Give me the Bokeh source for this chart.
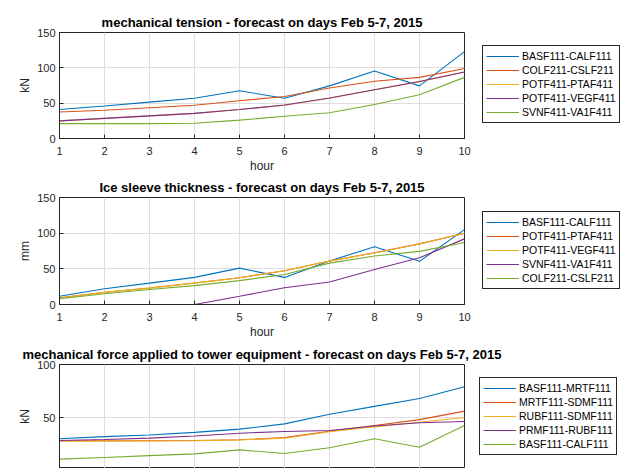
from bokeh.plotting import figure
from bokeh.layouts import column
from bokeh.models import Legend, LegendItem, FixedTicker, Range1d
from bokeh.embed import file_html
from bokeh.resources import INLINE

hours = [1, 2, 3, 4, 5, 6, 7, 8, 9, 10]

# Panel 1: mechanical tension (kN)
t_names = ["BASF111-CALF111", "COLF211-CSLF211", "POTF411-PTAF411", "POTF411-VEGF411", "SVNF411-VA1F411"]
t_basf_calf = [41, 46, 51.5, 57, 67.5, 57, 74.5, 95.5, 74.5, 123]
t_colf_cslf = [37.5, 40, 43.5, 47, 53.5, 59.5, 71.5, 81, 86.5, 99]
t_potf_ptaf = [25, 28.5, 32, 35.5, 41, 47, 57, 69, 80.5, 94]
t_potf_vegf = [25, 28.5, 32, 35.5, 41, 47.3, 57.2, 69, 80.6, 94.2]
t_svnf_va1f = [21, 21, 21, 21.5, 26, 31.5, 36.5, 48, 62, 86.5]

# Panel 2: ice sleeve thickness (mm)
i_names = ["BASF111-CALF111", "POTF411-PTAF411", "POTF411-VEGF411", "SVNF411-VA1F411", "COLF211-CSLF211"]
i_basf_calf = [11.5, 22, 30, 38, 51, 38, 61, 81, 60.5, 105]
i_potf_ptaf = [9.3, 17.2, 23.2, 30.2, 37.6, 47.4, 61, 72.5, 85, 100]
i_potf_vegf = [9, 17, 23, 30, 37.5, 47.2, 60.8, 72.3, 84.8, 99.8]
i_svnf_va1f = [0, 0, 0, 0, 11.5, 23.5, 31.5, 49, 65.5, 92]
i_colf_cslf = [8, 15, 21, 26.5, 33.5, 42, 58, 68, 74.5, 87]

# Panel 3: mechanical force applied to tower equipment (kN)
f_names = ["BASF111-MRTF111", "MRTF111-SDMF111", "RUBF111-SDMF111", "PRMF111-RUBF111", "BASF111-CALF111"]
f_basf_mrtf = [30, 32, 33.5, 36, 39, 44, 53, 60.5, 68, 79]
f_mrtf_sdmf = [28, 28, 28, 28.3, 29, 31, 37, 42.5, 48, 56]
f_rubf_sdmf = [27.7, 27.7, 27.8, 28, 28.8, 30.5, 36.5, 41.2, 45.5, 50]
f_prmf_rubf = [28.3, 29.2, 30.5, 32.5, 35.2, 36.8, 37.8, 42, 45, 46.2]
f_basf_calf = [10.7, 12.3, 14, 15.7, 19.5, 16, 21.5, 30, 22, 42.5]

colors = ["#0072BD", "#D95319", "#EDB120", "#7E2F8E", "#77AC30"]
FONT = "Liberation Sans"
AX = "#262626"


def panel(title, names, series, ylabel, yr, yticks, fh, btop, bbottom, show_x, leg_xy):
    p = figure(width=622, height=btop + fh + bbottom, frame_width=405, frame_height=fh,
               output_backend="svg", toolbar_location=None,
               x_range=Range1d(1, 10), y_range=Range1d(*yr),
               min_border_left=59, min_border_right=158,
               min_border_top=btop, min_border_bottom=bbottom)
    p.title.text = title
    p.title.align = "center"
    p.title.text_font = FONT
    p.title.text_font_size = "13px"
    p.title.text_font_style = "bold"
    p.title.text_color = "black"
    p.title.standoff = 5
    p.outline_line_color = AX
    p.outline_line_alpha = 1
    p.outline_line_width = 1
    p.background_fill_color = "white"
    p.border_fill_color = "white"
    p.xaxis.ticker = FixedTicker(ticks=hours)
    p.yaxis.ticker = FixedTicker(ticks=yticks)
    for ax in (p.xaxis[0], p.yaxis[0]):
        ax.major_tick_in = 4
        ax.major_tick_out = 0
        ax.minor_tick_line_color = None
        ax.axis_line_color = AX
        ax.major_tick_line_color = AX
        ax.major_label_text_font = FONT
        ax.major_label_text_font_size = "11px"
        ax.major_label_text_color = AX
        ax.axis_label_text_font = FONT
        ax.axis_label_text_font_size = "12px"
        ax.axis_label_text_font_style = "normal"
        ax.axis_label_text_color = AX
    p.yaxis.axis_label = ylabel
    p.yaxis.major_label_standoff = 4
    p.yaxis.axis_label_standoff = 2
    p.xaxis.major_label_standoff = 8
    p.xaxis.axis_label_standoff = 1
    if show_x:
        p.xaxis.axis_label = "hour"
    else:
        p.xaxis.visible = False
    p.grid.grid_line_color = "#dedede"
    p.grid.grid_line_width = 1
    items = []
    for name, ys, c in zip(names, series, colors):
        r = p.line(hours, ys, line_color=c, line_width=1.1)
        items.append(LegendItem(label=name, renderers=[r]))
    leg = Legend(items=items, location=leg_xy,
                 label_text_font=FONT, label_text_font_size="10.5px", label_text_color="black",
                 label_height=14, glyph_height=14, glyph_width=33, label_standoff=3,
                 spacing=0, padding=3, margin=0,
                 border_line_color=AX, border_line_width=1, border_line_alpha=1,
                 background_fill_color="white", background_fill_alpha=1)
    p.add_layout(leg, "right")
    return p


p1 = panel("mechanical tension - forecast on days Feb 5-7, 2015", t_names,
           [t_basf_calf, t_colf_cslf, t_potf_ptaf, t_potf_vegf, t_svnf_va1f],
           "kN", (0, 150), [0, 50, 100, 150], 106, 32, 37, True, (18, 15))
p2 = panel("Ice sleeve thickness - forecast on days Feb 5-7, 2015", i_names,
           [i_basf_calf, i_potf_ptaf, i_potf_vegf, i_svnf_va1f, i_colf_cslf],
           "mm", (0, 150), [0, 50, 100, 150], 107, 22, 37, True, (18, 15))
p3 = panel("mechanical force applied to tower equipment - forecast on days Feb 5-7, 2015", f_names,
           [f_basf_mrtf, f_mrtf_sdmf, f_rubf_sdmf, f_prmf_rubf, f_basf_calf],
           "kN", (100 - 104 / 1.06, 100), [0, 50, 100], 104, 23, 0, False, (15, 13))

layout = column(p1, p2, p3, spacing=0)
open("out.html", "w").write(file_html(layout, INLINE))
